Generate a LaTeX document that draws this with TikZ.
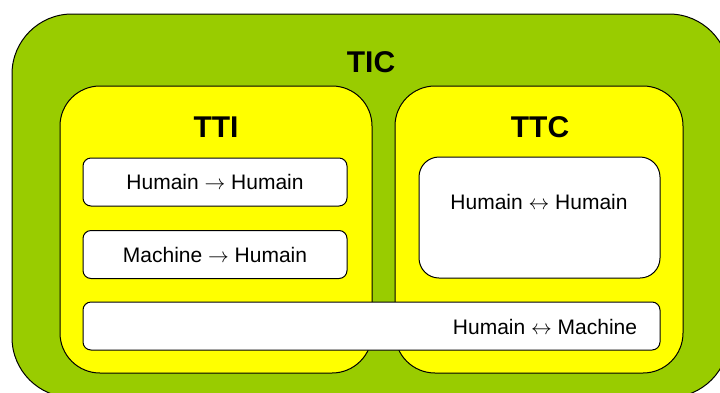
\documentclass[tikz,border=0pt]{standalone}
\usepackage{fontspec}
\setmainfont{Liberation Sans}
\usepackage{xcolor}
\usepackage{tikz}
\usetikzlibrary{positioning}

\definecolor{ticgreen}{HTML}{99CC00}
\definecolor{ttyellow}{HTML}{FFFF00}

\begin{document}
\begin{tikzpicture}[
    x=1pt, y=-1pt,
    every node/.style = {draw, line width=1pt, inner sep=0pt},
    zone/.style = {fill=ttyellow, rounded corners=40pt, minimum width=#1, minimum height=287pt},
    item/.style = {fill=white, rounded corners=8pt, minimum height=48pt, minimum width=#1,
                   font=\fontsize{21}{25}\selectfont},
    title/.style = {draw=none, font=\fontsize{30}{36}\selectfont\bfseries},
    caption/.style = {draw=none, font=\fontsize{21}{25}\selectfont}
  ]
  \clip (0,0) rectangle (720,392);

  % cadre exterieur
  \node[fill=ticgreen, rounded corners=60pt, minimum width=717pt, minimum height=383.5pt]
    (tic) at (370.5,205.75) {};
  \node[title] (tictitle) at (371,62) {TIC};

  % les deux zones
  \node[zone=312pt] (tti) at (216,229.5) {};
  \node[zone=288pt] (ttc) at (539,229.5) {};
  \node[title] (ttititle) at (216,127) {TTI};
  \node[title] (ttctitle) at (540,127) {TTC};

  % interactions
  \node[item=264pt] (hh) at (215,182) {Humain $\rightarrow$ Humain};
  \node[item=264pt] (mh) at (215,254.5) {Machine $\rightarrow$ Humain};
  \node[item=241pt, minimum height=121pt, rounded corners=20pt] (hhc) at (539.5,217.5) {};
  \node[caption] (hhctext) at (539,201.5) {Humain $\leftrightarrow$ Humain};
  \node[item=577pt] (hm) at (371.5,326) {};
  \node[caption] (hmtext) at (545,326.5) {Humain $\leftrightarrow$ Machine};
\end{tikzpicture}
\end{document}
